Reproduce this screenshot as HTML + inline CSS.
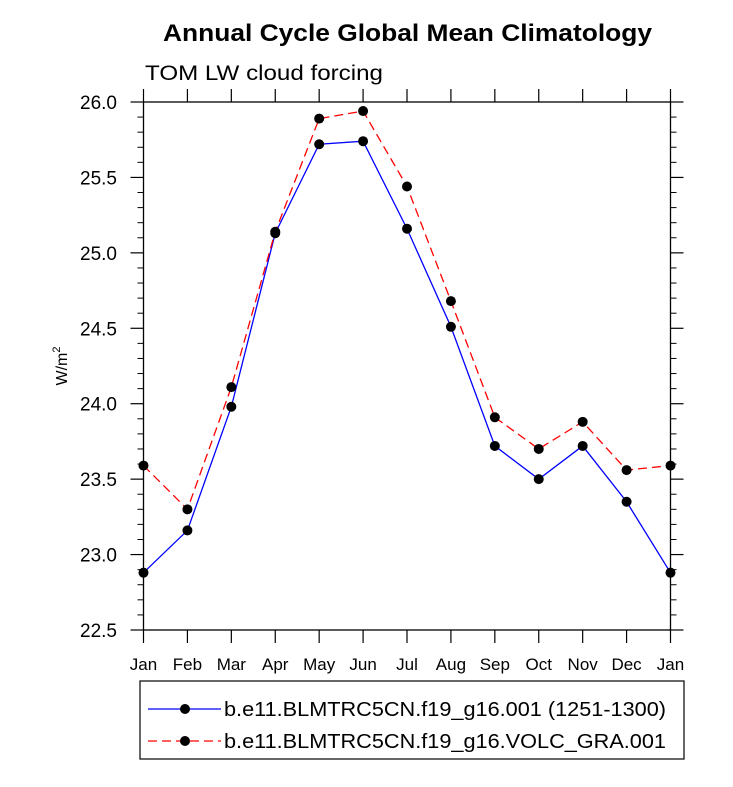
<!DOCTYPE html>
<html><head><meta charset="utf-8"><style>
body{margin:0;background:#fff;font-family:"Liberation Sans",sans-serif}
</style></head><body>
<svg width="733" height="782" xmlns="http://www.w3.org/2000/svg" font-family="Liberation Sans, sans-serif">
<text x="163" y="41" font-size="24" font-weight="bold" textLength="489" lengthAdjust="spacingAndGlyphs">Annual Cycle Global Mean Climatology</text>
<text x="145" y="80" font-size="21" textLength="238" lengthAdjust="spacingAndGlyphs">TOM LW cloud forcing</text>
<text transform="translate(67,366) rotate(-90)" text-anchor="middle" font-size="16">W/m<tspan dy="-7" font-size="11">2</tspan></text>
<g id="axes"></g>
<g id="series"></g>
<rect x="140" y="681" width="544" height="78" fill="none" stroke="#000" stroke-width="1.2"/>
<g>
<line x1="148" y1="709" x2="221" y2="709" stroke="#00f" stroke-width="1.3"/>
<circle cx="185" cy="709" r="5" fill="#000"/>
<text x="224" y="716" font-size="20" textLength="442" lengthAdjust="spacingAndGlyphs">b.e11.BLMTRC5CN.f19_g16.001 (1251-1300)</text>
</g>
<g>
<line x1="148" y1="741" x2="221" y2="741" stroke="#f00" stroke-width="1.3" stroke-dasharray="9,5"/>
<circle cx="185" cy="741" r="5" fill="#000"/>
<text x="224" y="748" font-size="20" textLength="442" lengthAdjust="spacingAndGlyphs">b.e11.BLMTRC5CN.f19_g16.VOLC_GRA.001</text>
</g>
</svg>
<script>
const months=["Jan","Feb","Mar","Apr","May","Jun","Jul","Aug","Sep","Oct","Nov","Dec","Jan"];
const controlValues=[22.88,23.16,23.98,25.13,25.72,25.74,25.16,24.51,23.72,23.50,23.72,23.35,22.88];
const volcValues=[23.59,23.30,24.11,25.14,25.89,25.94,25.44,24.68,23.91,23.70,23.88,23.56,23.59];
const yTicks=["22.5","23.0","23.5","24.0","24.5","25.0","25.5","26.0"];
const NS="http://www.w3.org/2000/svg";
const L=143.5,R=670.5,T=102,B=630,YMIN=22.5,YMAX=26;
const xs=i=>L+(R-L)*i/(months.length-1);
const ys=v=>B-(v-YMIN)/(YMAX-YMIN)*(B-T);
function mk(tag,attrs,parent){const e=document.createElementNS(NS,tag);for(const k in attrs)e.setAttribute(k,attrs[k]);parent.appendChild(e);return e;}
const ax=document.getElementById('axes');
const fr=mk('rect',{x:L,y:T,width:R-L,height:B-T,fill:'none',stroke:'#000','stroke-width':1.3},ax);


months.forEach((m,i)=>{
  const x=xs(i);
  mk('line',{x1:x,y1:B,x2:x,y2:B+13,stroke:'#000','stroke-width':1.2},ax);
  mk('line',{x1:x,y1:T,x2:x,y2:T-13,stroke:'#000','stroke-width':1.2},ax);
  const t=mk('text',{x:x,y:B+40,'text-anchor':'middle','font-size':17},ax);
  t.textContent=m;
  
  
});
for(let k=0;k<=35;k++){
  const v=YMIN+k*0.1,y=ys(v),major=k%5===0,len=major?13:6;
  mk('line',{x1:L,y1:y,x2:L-len,y2:y,stroke:'#000','stroke-width':major?1.2:1},ax);
  mk('line',{x1:R,y1:y,x2:R+len,y2:y,stroke:'#000','stroke-width':major?1.2:1},ax);
}
yTicks.forEach(s=>{
  const t=mk('text',{x:117,y:ys(parseFloat(s))+7,'text-anchor':'end','font-size':19},ax);
  t.textContent=s;
  
  
});
const sg=document.getElementById('series');
function series(vals,color,dash,name){
  const g=mk('g',{},sg);
  
  
  const pts=vals.map((v,i)=>xs(i)+','+ys(v)).join(' ');
  const a={points:pts,fill:'none',stroke:color,'stroke-width':1.3};
  if(dash)a['stroke-dasharray']=dash;
  mk('polyline',a,g);
  vals.forEach((v,i)=>{
    const c=mk('circle',{cx:xs(i),cy:ys(v),r:5,fill:'#000'},g);
    
    
  });
}
series(controlValues,'#00f',null,'series-control');
series(volcValues,'#f00','9,5','series-volc');
</script>
</body></html>
